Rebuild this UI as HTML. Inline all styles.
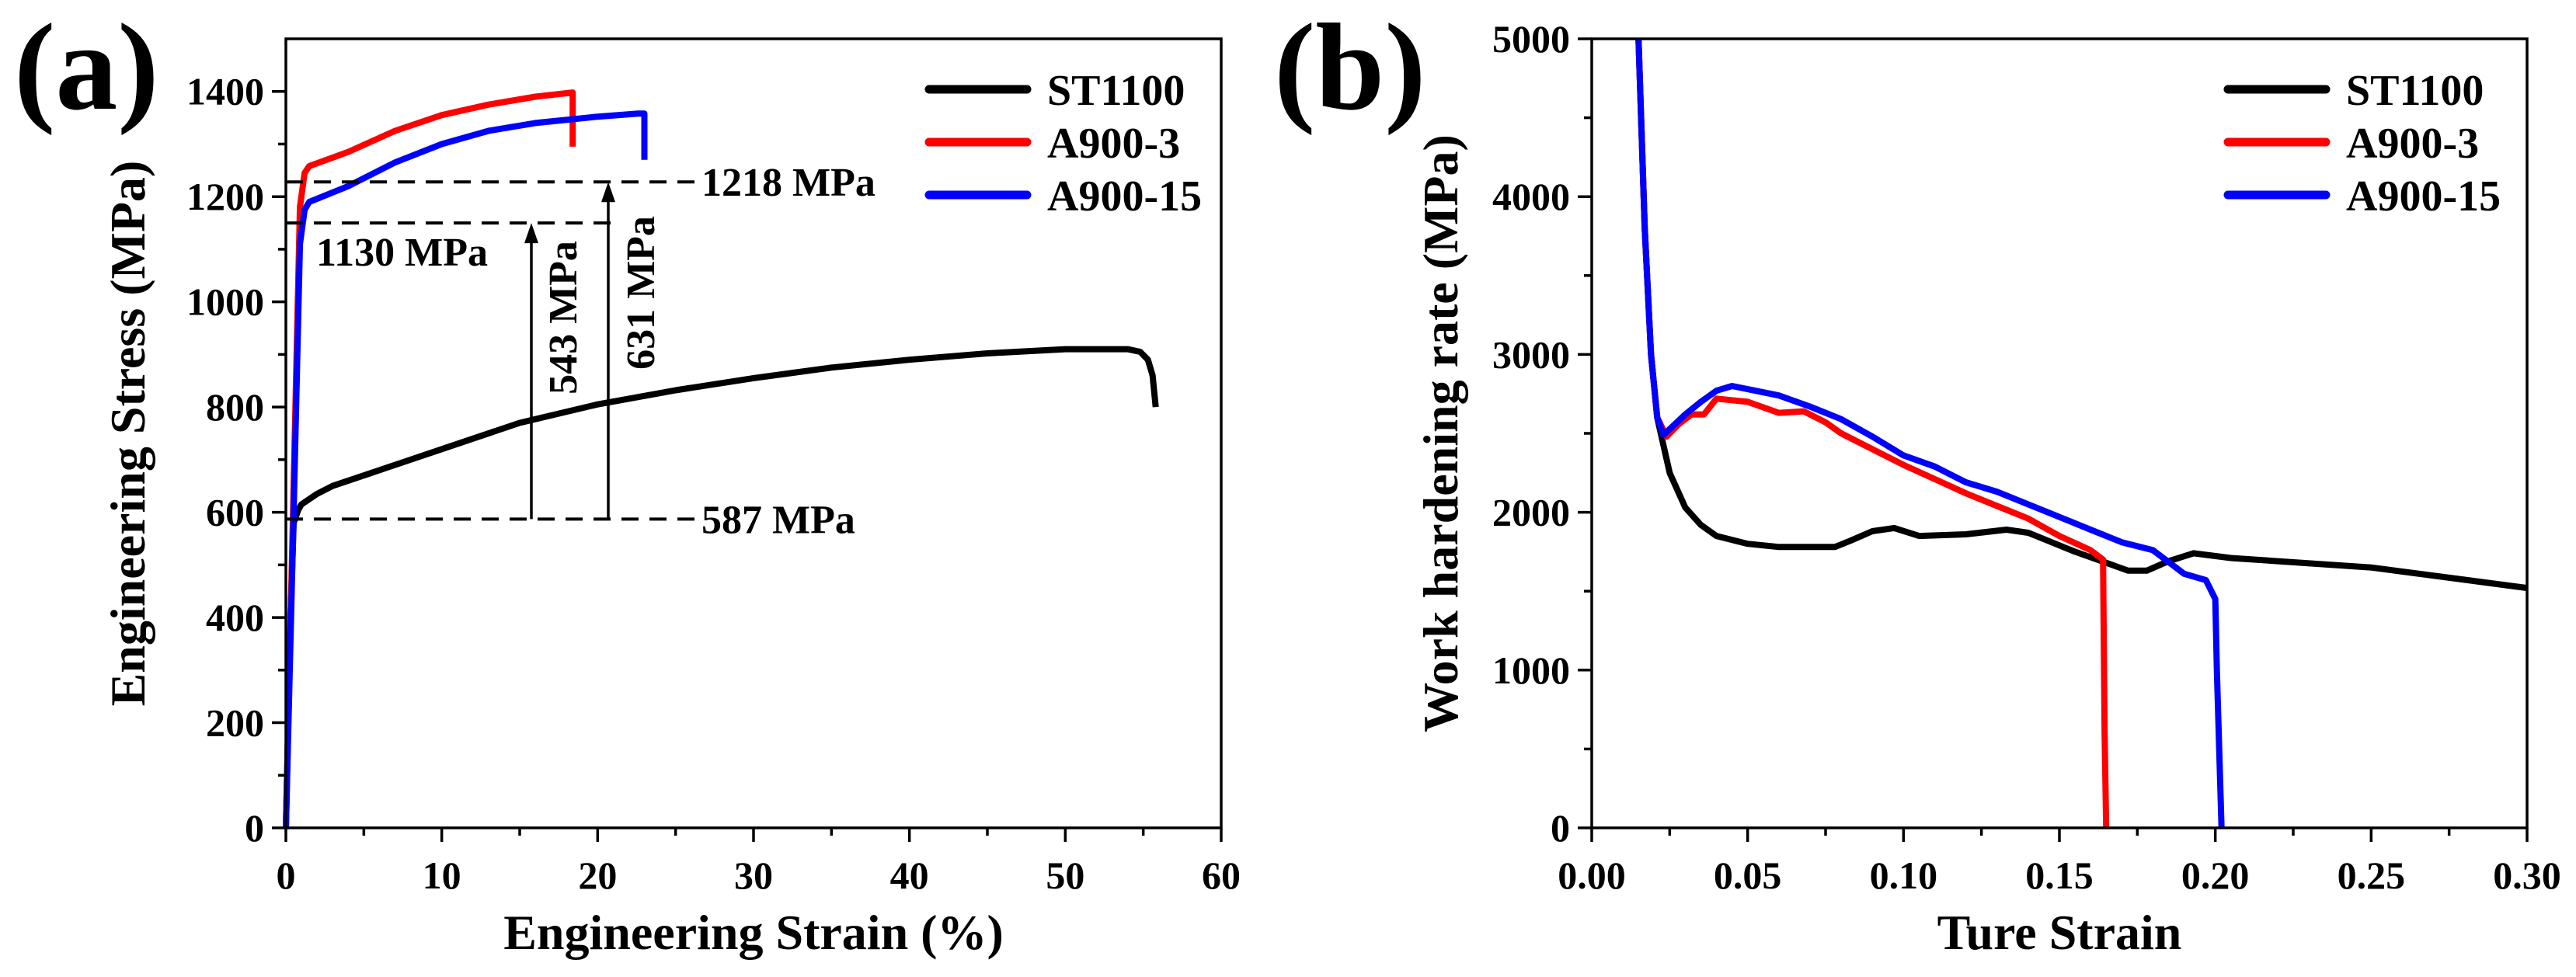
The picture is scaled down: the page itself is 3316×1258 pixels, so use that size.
<!DOCTYPE html>
<html><head><meta charset="utf-8"><style>
html,body{margin:0;padding:0;background:#fff;}
svg{display:block;}
svg text{font-family:"Liberation Serif","Times New Roman",serif;font-weight:bold;}
</style></head><body>
<svg id="fig" width="3316" height="1258" viewBox="0 0 3316 1258" xmlns="http://www.w3.org/2000/svg">
<text x="18" y="140" font-size="160" font-family="Liberation Serif">(a)</text>
<text x="1640" y="140" font-size="160" font-family="Liberation Serif">(b)</text>
<g id="pa"></g>
<g id="pb"></g>
</svg>
<script>
// Panel (a) data
const aXTicks = [0,10,20,30,40,50,60];
const aYTicks = [0,200,400,600,800,1000,1200,1400];
const aST_x = [0,0.3,0.5,0.8,1,2,3,5,10,15,20,25,30,35,40,45,50,54,54.8,55.3,55.6,55.8];
const aST_y = [0,400,580,605,615,635,650,670,720,770,805,832,855,875,890,902,910,910,905,890,860,800];
const aR_x = [0,0.5,0.9,1.2,1.5,4,7,10,13,16,18.4,18.4];
const aR_y = [0,650,1180,1245,1258,1285,1325,1355,1375,1390,1398,1295];
const aB_x = [0,0.5,0.9,1.2,1.5,4,7,10,13,16,20,22.6,23,23];
const aB_y = [0,600,1110,1175,1190,1220,1265,1300,1325,1340,1352,1358,1358,1270];
const aRefY = [1228,1150,587];
const aRefLabels = ['1218 MPa','1130 MPa','587 MPa'];
// Panel (b) data
const bXTicks = [0,0.05,0.10,0.15,0.20,0.25,0.30];
const bXTickLabels = ['0.00','0.05','0.10','0.15','0.20','0.25','0.30'];
const bYTicks = [0,1000,2000,3000,4000,5000];
const bST_x = [0.015,0.017,0.019,0.021,0.025,0.03,0.035,0.04,0.05,0.06,0.07,0.078,0.083,0.09,0.097,0.105,0.12,0.133,0.14,0.145,0.155,0.165,0.172,0.178,0.185,0.193,0.205,0.25,0.3];
const bST_y = [5000,3800,3000,2600,2250,2030,1920,1850,1800,1780,1780,1780,1820,1880,1900,1850,1860,1890,1870,1830,1750,1680,1630,1630,1690,1740,1710,1650,1520];
const bR_x = [0.015,0.017,0.019,0.021,0.024,0.028,0.032,0.036,0.04,0.05,0.06,0.068,0.075,0.08,0.09,0.1,0.11,0.12,0.13,0.14,0.15,0.16,0.164,0.1645,0.165];
const bR_y = [5000,3800,3000,2600,2480,2560,2620,2620,2720,2700,2630,2640,2570,2500,2400,2300,2210,2120,2040,1960,1850,1760,1700,600,0];
const bB_x = [0.015,0.017,0.019,0.021,0.023,0.03,0.035,0.04,0.045,0.05,0.06,0.07,0.08,0.09,0.1,0.11,0.12,0.13,0.14,0.15,0.16,0.17,0.18,0.19,0.197,0.2,0.2005,0.202];
const bB_y = [5000,3800,3000,2600,2490,2620,2700,2770,2800,2780,2740,2670,2590,2480,2360,2290,2190,2130,2050,1970,1890,1810,1760,1610,1570,1450,1000,0];

const NS='http://www.w3.org/2000/svg';
function mk(parent,tag,attrs){const e=document.createElementNS(NS,tag);for(const k in attrs)e.setAttribute(k,attrs[k]);if(tag==='text'){e.setAttribute('font-family','Liberation Serif, serif');e.setAttribute('font-weight','bold');}parent.appendChild(e);return e;}

function drawPanel(g,o){
  const sx=v=>o.L+(v-o.x0)/(o.x1-o.x0)*(o.R-o.L);
  const sy=v=>o.B-(v-o.y0)/(o.y1-o.y0)*(o.B-o.T);
  o.series.forEach(s=>{
    const d=s.x.map((v,i)=>(i?'L':'M')+sx(v).toFixed(1)+','+sy(s.y[i]).toFixed(1)).join('');
    const p=mk(g,'path',{d:d,fill:'none',stroke:s.c,'stroke-width':8,'stroke-linejoin':'round'});
    
    
  });
  const fr=mk(g,'rect',{x:o.L,y:o.T,width:o.R-o.L,height:o.B-o.T,fill:'none',stroke:'#000','stroke-width':3.5});
  
  
  o.xt.forEach((v,i)=>{
    mk(g,'line',{x1:sx(v),x2:sx(v),y1:o.B,y2:o.B+18,stroke:'#000','stroke-width':3.5});
    if(i<o.xt.length-1){const m=(v+o.xt[i+1])/2;mk(g,'line',{x1:sx(m),x2:sx(m),y1:o.B,y2:o.B+10,stroke:'#000','stroke-width':3.5});}
    const t=mk(g,'text',{x:sx(v),y:o.B+78,'font-size':50,'text-anchor':'middle'});
    t.textContent=o.xl[i];
    
    
  });
  o.yt.forEach((v,i)=>{
    mk(g,'line',{x1:o.L-18,x2:o.L,y1:sy(v),y2:sy(v),stroke:'#000','stroke-width':3.5});
    if(i<o.yt.length-1){const m=(v+o.yt[i+1])/2;mk(g,'line',{x1:o.L-10,x2:o.L,y1:sy(m),y2:sy(m),stroke:'#000','stroke-width':3.5});}
    const t=mk(g,'text',{x:o.L-28,y:sy(v)+17,'font-size':50,'text-anchor':'end'});
    t.textContent=o.yl[i];
    
    
  });
  const xt=mk(g,'text',{x:(o.L+o.R)/2,y:1222,'font-size':64,'text-anchor':'middle'});
  xt.textContent=o.xTitle;
  
  
  const yt=mk(g,'text',{x:0,y:0,'font-size':64,'text-anchor':'middle',transform:'translate('+o.ytx+',558) rotate(-90)'});
  yt.textContent=o.yTitle;
  
  
  o.series.forEach((s,i)=>{
    const y=115+i*68;
    const l=mk(g,'line',{x1:o.legX,x2:o.legX+126,y1:y,y2:y,stroke:s.c,'stroke-width':11,'stroke-linecap':'round'});
    
    
    const t=mk(g,'text',{x:o.legX+152,y:y+20,'font-size':56});
    t.textContent=s.label;
    
    
  });
  return {sx,sy};
}

const A=drawPanel(document.getElementById('pa'),{L:368,R:1572,T:50,B:1066,x0:0,x1:60,y0:0,y1:1500,
  xt:aXTicks,xl:aXTicks.map(String),yt:aYTicks,yl:aYTicks.map(String),
  xTitle:'Engineering Strain (%)',yTitle:'Engineering Stress (MPa)',ytx:186,legX:1196,
  series:[{x:aST_x,y:aST_y,c:'#000',label:'ST1100',name:'st1100-curve'},{x:aR_x,y:aR_y,c:'#ff0000',label:'A900-3',name:'a900-3-curve'},{x:aB_x,y:aB_y,c:'#0000ff',label:'A900-15',name:'a900-15-curve'}]});

(function(){
  const g=document.getElementById('pa');
  const ends=[898,798,898];
  aRefY.forEach((v,i)=>{
    const y=A.sy(v);
    const l=mk(g,'line',{x1:368,x2:ends[i],y1:y,y2:y,stroke:'#000','stroke-width':4,'stroke-dasharray':'22,14'});
    
    
  });
  const t1=mk(g,'text',{x:903,y:A.sy(aRefY[0])+18,'font-size':52});t1.textContent=aRefLabels[0];
  
  
  const t2=mk(g,'text',{x:407,y:342,'font-size':52});t2.textContent=aRefLabels[1];
  
  
  const t3=mk(g,'text',{x:903,y:A.sy(aRefY[2])+18,'font-size':52});t3.textContent=aRefLabels[2];
  
  
  [[684,1,'543 MPa',742],[783,0,'631 MPa',842]].forEach(a=>{
    const y2=A.sy(aRefY[a[1]]), y1=A.sy(aRefY[2]);
    mk(g,'line',{x1:a[0],x2:a[0],y1:y1,y2:y2+22,stroke:'#000','stroke-width':3.5});
    const p=mk(g,'path',{d:`M${a[0]-9},${y2+26}L${a[0]},${y2}L${a[0]+9},${y2+26}Z`,fill:'#000'});
    
    
    const cy=a[1]?409:377;
    const t=mk(g,'text',{x:0,y:0,'font-size':52,'text-anchor':'middle',transform:`translate(${a[3]},${cy}) rotate(-90)`});
    t.textContent=a[2];
    
    
  });
})();

drawPanel(document.getElementById('pb'),{L:2049,R:3253,T:50,B:1066,x0:0,x1:0.3,y0:0,y1:5000,
  xt:bXTicks,xl:bXTickLabels,yt:bYTicks,yl:bYTicks.map(String),
  xTitle:'Ture Strain',yTitle:'Work hardening rate (MPa)',ytx:1876,legX:2868,
  series:[{x:bST_x,y:bST_y,c:'#000',label:'ST1100',name:'st1100-curve'},{x:bR_x,y:bR_y,c:'#ff0000',label:'A900-3',name:'a900-3-curve'},{x:bB_x,y:bB_y,c:'#0000ff',label:'A900-15',name:'a900-15-curve'}]});
</script>
</body></html>
